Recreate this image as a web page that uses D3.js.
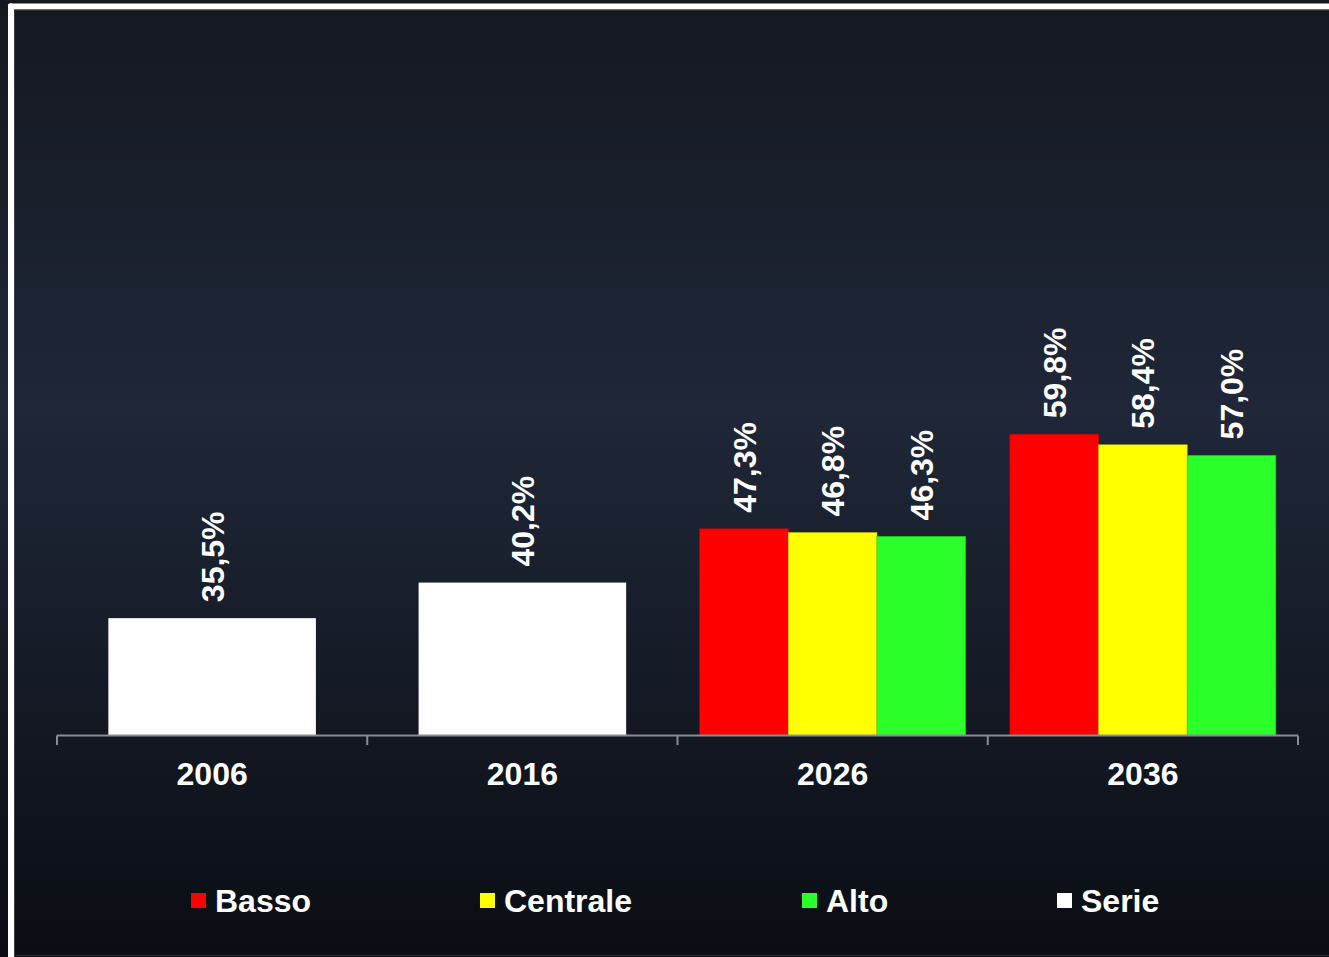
<!DOCTYPE html>
<html>
<head>
<meta charset="utf-8">
<script src="https://cdn.jsdelivr.net/npm/d3@7"></script>
<style>
  html, body { margin: 0; padding: 0; background: #141820; }
  svg { display: block; }
  text { font-family: "Liberation Sans", Arial, sans-serif; font-weight: bold; fill: #ffffff; }
</style>
</head>
<body>
<svg id="chart" width="1329" height="957"></svg>
<script>
// ---- data ----
const years = ["2006", "2016", "2026", "2036"];
const serieValues = [35.5, 40.2, null, null];
const bassoValues = [null, null, 47.3, 59.8];
const centraleValues = [null, null, 46.8, 58.4];
const altoValues = [null, null, 46.3, 57.0];
const seriesNames = ["Basso", "Centrale", "Alto"];
const seriesColors = ["#ff0000", "#ffff00", "#2aff2a"];
const legendNames = ["Basso", "Centrale", "Alto", "Serie"];
const legendColors = ["#ff0000", "#ffff00", "#2aff2a", "#ffffff"];

// ---- layout ----
const W = 1329, H = 957;
const svg = d3.select("#chart");
const defs = svg.append("defs");
const grad = defs.append("linearGradient").attr("id", "bg").attr("x1", 0).attr("y1", 0).attr("x2", 0).attr("y2", 1);
grad.append("stop").attr("offset", "0%").attr("stop-color", "#141820");
grad.append("stop").attr("offset", "43%").attr("stop-color", "#1f2738");
grad.append("stop").attr("offset", "100%").attr("stop-color", "#0a0d13");

svg.append("rect").attr("width", W).attr("height", H).attr("fill", "url(#bg)");

// frame: white border left and top
svg.append("rect").attr("x", 8).attr("y", 3.5).attr("width", W).attr("height", 6).attr("fill", "#ffffff").attr("rx", 2);
svg.append("rect").attr("x", 8).attr("y", 3.5).attr("width", 6).attr("height", H).attr("fill", "#ffffff").attr("rx", 2);
svg.append("line").attr("x1", 14).attr("x2", W).attr("y1", 9.8).attr("y2", 9.8).attr("stroke", "#5a5d63").attr("stroke-width", 1);
svg.append("line").attr("x1", 14.5).attr("x2", 14.5).attr("y1", 10).attr("y2", H).attr("stroke", "#3a3d44").attr("stroke-width", 1);
svg.append("line").attr("x1", 14).attr("x2", W).attr("y1", 955.5).attr("y2", 955.5).attr("stroke", "#2a2d33").attr("stroke-width", 1);

const x0 = 57, x1 = 1298, baseY = 735.5;
const x = d3.scaleBand().domain(years).range([x0, x1]).padding(0);
const y = d3.scaleLinear().domain([20, 80]).range([baseY, 281.3]);
const bw = x.bandwidth();

const fmt = v => d3.format(".1f")(v).replace(".", ",") + "%";
const g = svg.append("g");

function label(cx, v) {
  g.append("text")
    .attr("transform", `translate(${cx},${y(v) - 16}) rotate(-90)`)
    .attr("text-anchor", "start")
    .attr("dy", "0.36em")
    .attr("font-size", 32)
    .text(fmt(v));
}

// white "Serie" bars
const serieW = bw * 0.669;
years.forEach((yr, i) => {
  const v = serieValues[i];
  if (v == null) return;
  const cx = x(yr) + bw / 2;
  g.append("rect").attr("x", cx - serieW / 2).attr("y", y(v)).attr("width", serieW).attr("height", baseY - y(v)).attr("fill", "#ffffff");
  label(cx, v);
});

// clustered scenario bars
const groupW = bw * 0.857;
const xs = d3.scaleBand().domain(seriesNames).range([0, groupW]).padding(0);
const scen = [bassoValues, centraleValues, altoValues];
years.forEach((yr, i) => {
  const gx = x(yr) + (bw - groupW) / 2;
  seriesNames.forEach((s, k) => {
    const v = scen[k][i];
    if (v == null) return;
    const bx = gx + xs(s);
    g.append("rect").attr("x", bx).attr("y", y(v)).attr("width", xs.bandwidth()).attr("height", baseY - y(v))
      .attr("fill", seriesColors[k]).attr("stroke", d3.color(seriesColors[k]).darker(0.6)).attr("stroke-width", 0.6);
    label(bx + xs.bandwidth() / 2, v);
  });
});

// x axis
const tickXs = years.map(yr => x(yr)).concat([x1]);
svg.append("line").attr("x1", x0).attr("x2", x1).attr("y1", baseY).attr("y2", baseY).attr("stroke", "#8c8c8c").attr("stroke-width", 2);
tickXs.forEach(tx => {
  svg.append("line").attr("x1", tx).attr("x2", tx).attr("y1", baseY).attr("y2", 745).attr("stroke", "#8c8c8c").attr("stroke-width", 2);
});
years.forEach(yr => {
  svg.append("text").attr("x", x(yr) + bw / 2).attr("y", 785).attr("text-anchor", "middle").attr("font-size", 32).text(yr);
});

// legend
const legendX = [191, 480, 802, 1057];
legendNames.forEach((n, i) => {
  const lg = svg.append("g").attr("transform", `translate(${legendX[i]},893)`);
  lg.append("rect").attr("width", 15).attr("height", 15).attr("fill", legendColors[i]);
  lg.append("text").attr("x", 24).attr("y", 19).attr("font-size", 32).text(n);
});
</script>
</body>
</html>
